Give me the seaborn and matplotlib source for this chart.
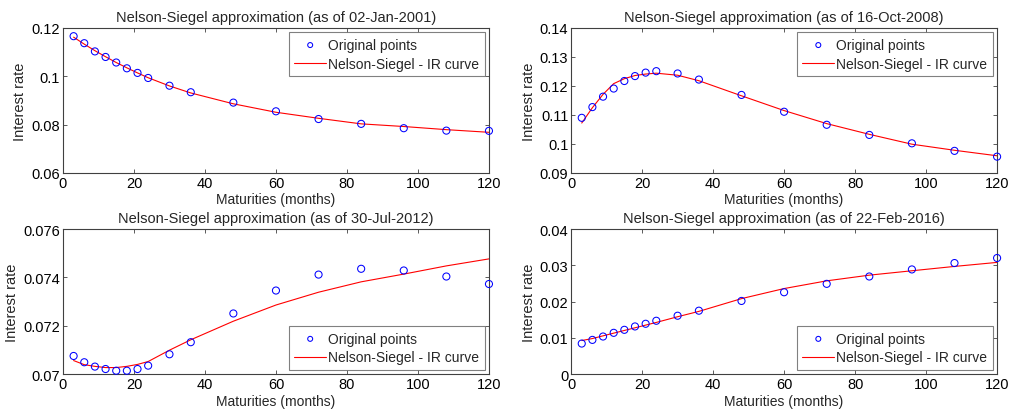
import matplotlib
matplotlib.use("Agg")
import matplotlib.pyplot as plt
import seaborn as sns
import pandas as pd

sns.set_style("ticks")
plt.rcParams["font.family"] = ["Liberation Sans", "DejaVu Sans"]
plt.rcParams["axes.edgecolor"] = "#404040"
plt.rcParams["axes.linewidth"] = 0.8

# Maturities in months
maturities = [3, 6, 9, 12, 15, 18, 21, 24, 30, 36, 48, 60, 72, 84, 96, 108, 120]

dates = ["02-Jan-2001", "16-Oct-2008", "30-Jul-2012", "22-Feb-2016"]

# Observed rates
obs_2001 = [0.1166, 0.1137, 0.1103, 0.1080, 0.1057, 0.1033, 0.1014, 0.0993, 0.0961,
            0.0934, 0.0891, 0.0855, 0.0823, 0.0803, 0.0785, 0.0775, 0.0774]
obs_2008 = [0.1090, 0.1127, 0.1163, 0.1191, 0.1217, 0.1234, 0.1246, 0.1251, 0.1243,
            0.1222, 0.1169, 0.1111, 0.1066, 0.1031, 0.1002, 0.0976, 0.0956]
obs_2012 = [0.07075, 0.07049, 0.07031, 0.07021, 0.07014, 0.07014, 0.07021, 0.07035, 0.07082,
            0.07132, 0.07251, 0.07346, 0.07412, 0.07436, 0.07429, 0.07404, 0.07373]
obs_2016 = [0.00843, 0.00944, 0.01037, 0.01139, 0.01222, 0.01315, 0.01389, 0.01472, 0.01611,
            0.01750, 0.02019, 0.02259, 0.02491, 0.02694, 0.02889, 0.03065, 0.03204]

# Fitted Nelson-Siegel rates
fit_2001 = [0.1162, 0.1133, 0.1106, 0.1081, 0.1057, 0.1035, 0.1014, 0.0994, 0.0960,
            0.0931, 0.0886, 0.0851, 0.0826, 0.0803, 0.0792, 0.0779, 0.0768]
fit_2008 = [0.1072, 0.1125, 0.1171, 0.1208, 0.1225, 0.1236, 0.1241, 0.1244, 0.1237,
            0.1218, 0.1166, 0.1115, 0.1070, 0.1033, 0.0999, 0.0978, 0.0959]
fit_2012 = [0.07056, 0.07039, 0.07032, 0.07027, 0.07027, 0.07032, 0.07040, 0.07052, 0.07099,
            0.07142, 0.07219, 0.07286, 0.07339, 0.07382, 0.07414, 0.07448, 0.07477]
fit_2016 = [0.00926, 0.00981, 0.01056, 0.01130, 0.01204, 0.01278, 0.01352, 0.01426, 0.01583,
            0.01731, 0.02083, 0.02361, 0.02574, 0.02731, 0.02852, 0.02972, 0.03083]

observed = [obs_2001, obs_2008, obs_2012, obs_2016]
fitted = [fit_2001, fit_2008, fit_2012, fit_2016]
ylims = [(0.06, 0.12), (0.09, 0.14), (0.07, 0.076), (0.0, 0.04)]
yticks = [[0.06, 0.08, 0.1, 0.12],
          [0.09, 0.1, 0.11, 0.12, 0.13, 0.14],
          [0.07, 0.072, 0.074, 0.076],
          [0.0, 0.01, 0.02, 0.03, 0.04]]
ytick_labels = [["0.06", "0.08", "0.1", "0.12"],
                ["0.09", "0.1", "0.11", "0.12", "0.13", "0.14"],
                ["0.07", "0.072", "0.074", "0.076"],
                ["0", "0.01", "0.02", "0.03", "0.04"]]
legend_locs = ["upper right", "upper right", "lower right", "lower right"]

fig = plt.figure(figsize=(10.09, 4.14), dpi=100)
lefts = [0.0624, 0.566]
bottoms = [0.580, 0.094]
w, h = 0.4222, 0.350

for i in range(4):
    r, c = divmod(i, 2)
    ax = fig.add_axes([lefts[c], bottoms[r], w, h])
    df = pd.DataFrame({"m": maturities, "obs": observed[i], "fit": fitted[i]})
    sns.lineplot(data=df, x="m", y="fit", ax=ax, color="red", linewidth=0.8,
                 label="Nelson-Siegel - IR curve", zorder=2)
    sns.scatterplot(data=df, x="m", y="obs", ax=ax, marker="o", s=26,
                    facecolors="none", edgecolor="blue", linewidth=0.75,
                    label="Original points", zorder=3, clip_on=False)
    ax.set_xlim(0, 120)
    ax.set_ylim(*ylims[i])
    ax.set_xticks([0, 20, 40, 60, 80, 100, 120])
    ax.set_yticks(yticks[i])
    ax.set_yticklabels(ytick_labels[i])
    ax.tick_params(direction="in", length=3, width=0.6, labelsize=10.5,
                   top=True, right=True, pad=2, colors="#404040", labelcolor="black")
    ax.set_xlabel("Maturities (months)", fontsize=10, labelpad=2)
    ax.set_ylabel("Interest rate", fontsize=10.5, labelpad=3)
    ax.set_title(f"Nelson-Siegel approximation (as of {dates[i]})", fontsize=10.5, pad=5)
    handles, labels = ax.get_legend_handles_labels()
    order = [labels.index("Original points"), labels.index("Nelson-Siegel - IR curve")]
    leg = ax.legend([handles[k] for k in order], [labels[k] for k in order],
                    loc=legend_locs[i], fontsize=10, frameon=True, fancybox=False,
                    borderaxespad=0.3, handlelength=2.3, handletextpad=0.15,
                    borderpad=0.4, labelspacing=0.35, markerscale=0.7)
    leg.get_frame().set_edgecolor("#606060")
    leg.get_frame().set_linewidth(0.8)

fig.savefig("out.png", dpi=100)
